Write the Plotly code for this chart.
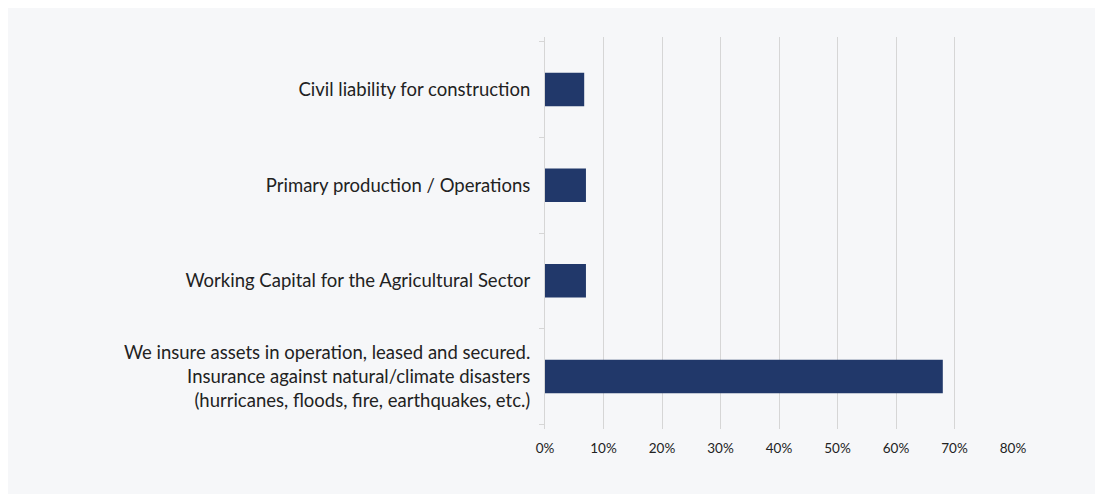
import plotly.graph_objects as go

categories = [
    "We insure assets in operation, leased and secured.<br>Insurance against natural/climate disasters<br>(hurricanes, floods, fire, earthquakes, etc.)",
    "Working Capital for the Agricultural Sector",
    "Primary production / Operations",
    "Civil liability for construction",
]
values = [0.68, 0.07, 0.07, 0.067]
x_ticks = [0, 0.1, 0.2, 0.3, 0.4, 0.5, 0.6, 0.7, 0.8]
x_tick_labels = ["0%", "10%", "20%", "30%", "40%", "50%", "60%", "70%", "80%"]

BG = "#f6f7f9"
fig = go.Figure(
    go.Bar(
        x=values,
        y=categories,
        orientation="h",
        marker=dict(color="#21386a", line=dict(width=0)),
        width=0.35,
    )
)

fig.update_layout(
    width=1103,
    height=494,
    paper_bgcolor=BG,
    plot_bgcolor=BG,
    margin=dict(l=537, r=98, t=29, b=73, autoexpand=False),
    font=dict(family="Lato, Open Sans, sans-serif", color="#222222"),
    showlegend=False,
)
fig.update_xaxes(
    range=[0, 0.8],
    tickvals=x_ticks,
    ticktext=x_tick_labels,
    showgrid=True,
    gridcolor="#d6d6d6",
    gridwidth=1,
    zeroline=False,
    showline=False,
    tickfont=dict(size=13.5),
    ticks="",
    ticklabelstandoff=9,
)
fig.update_yaxes(
    range=[-0.55, 3.55],
    showline=True,
    linecolor="#d6d6d6",
    linewidth=1,
    ticks="outside",
    tickson="boundaries",
    ticklen=5,
    tickcolor="#d6d6d6",
    tickfont=dict(size=18.5),
    ticklabelstandoff=10,
)

fig.write_html("out.html")
